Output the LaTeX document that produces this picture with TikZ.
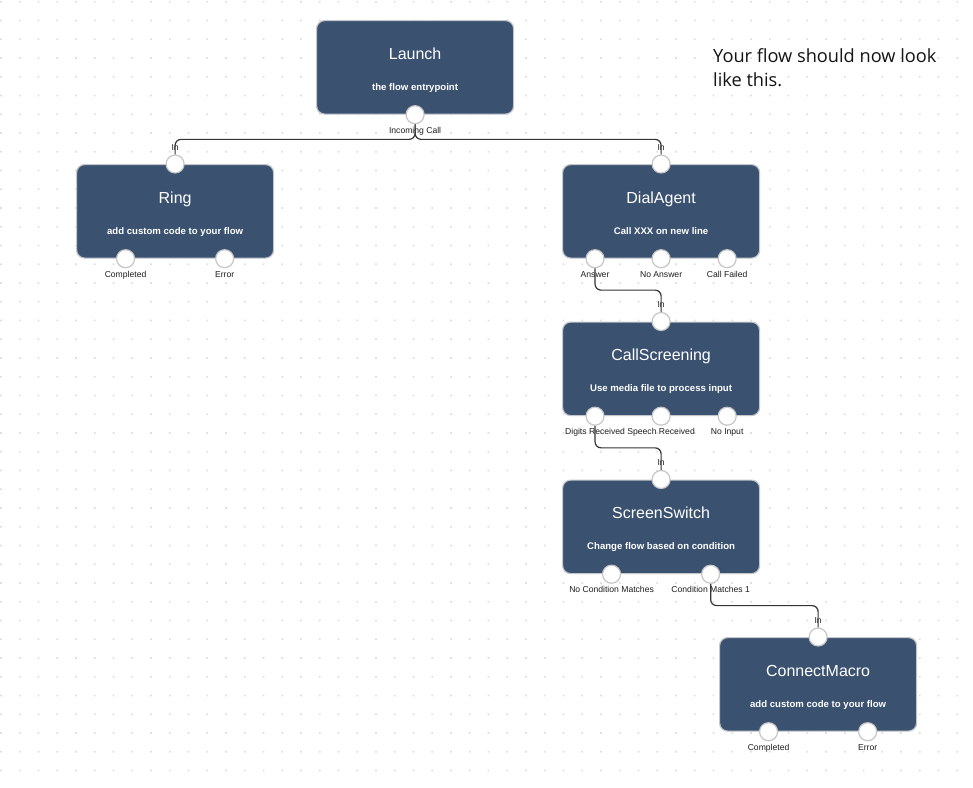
\documentclass[tikz,border=0pt]{standalone}
\usepackage{fontspec}
\setmainfont{Liberation Sans}
\newfontfamily\notefont{Open Sans}
\usetikzlibrary{calc}

\definecolor{boxfill}{HTML}{3A5270}
\definecolor{boxedge}{HTML}{C3C7CC}
\definecolor{portedge}{HTML}{C6C6C6}
\definecolor{wire}{HTML}{353535}
\definecolor{griddot}{HTML}{E0E0E0}
\definecolor{labeltext}{HTML}{1E1E1E}

\tikzset{
  block/.style={draw=boxedge, line width=1.2pt, fill=boxfill, rounded corners=8pt,
    minimum width=197pt, minimum height=93.5pt, inner sep=0pt, anchor=north west},
  title/.style={text=white, font=\fontsize{16}{18}\selectfont, anchor=base, inner sep=0pt},
  subtitle/.style={text=white, font=\bfseries\fontsize{9.6}{11}\selectfont, anchor=base, inner sep=0pt},
  port/.style={circle, draw=portedge, line width=1.2pt, fill=white, minimum size=18pt, inner sep=0pt},
  plabel/.style={text=labeltext, font=\fontsize{8.6}{10}\selectfont, anchor=base, inner sep=0pt},
  wire/.style={draw=wire, line width=1.2pt, rounded corners=6pt},
  note/.style={text=black!92, font=\notefont\fontsize{18.2}{24}\selectfont, anchor=base west, inner sep=0pt},
}

\begin{document}
\begin{tikzpicture}[x=1pt, y=-1pt]
  \useasboundingbox (0,0) rectangle (973,787);
  \fill[white] (0,0) rectangle (973,787);

  % dotted canvas grid
  \fill[griddot] \foreach \i in {0,...,51} { \foreach \j in {0,...,41} {
      (0.1+\i*18.75, 0.8+\j*18.75) rectangle ++(1.8,1.8) } };

  % ---- blocks ----
  \node[block] (launch) at (316,20) {};
  \node[block] (ring) at (76,164) {};
  \node[block] (dial) at (562,164) {};
  \node[block] (screen) at (562,321.5) {};
  \node[block] (switch) at (562,479.5) {};
  \node[block] (macro) at (719,637) {};

  % ---- titles and descriptions ----
  \foreach \b/\t/\s in {launch/Launch/the flow entrypoint,
                        ring/Ring/add custom code to your flow,
                        dial/DialAgent/Call XXX on new line,
                        screen/CallScreening/Use media file to process input,
                        switch/ScreenSwitch/Change flow based on condition,
                        macro/ConnectMacro/add custom code to your flow} {
    \node[title] (\b-title) at ([yshift=-39pt]\b.north) {\t};
    \node[subtitle] (\b-desc) at ([yshift=-70pt]\b.north) {\s};
  }

  % ---- ports ----
  \node[port] (launch-out) at (launch.south) {};

  \node[port] (ring-in) at (ring.north) {};
  \node[port] (ring-done) at ($(ring.south west)!0.25!(ring.south east)$) {};
  \node[port] (ring-err) at ($(ring.south west)!0.75!(ring.south east)$) {};

  \node[port] (dial-in) at (dial.north) {};
  \node[port] (dial-ans) at ($(dial.south west)!0.1667!(dial.south east)$) {};
  \node[port] (dial-noans) at (dial.south) {};
  \node[port] (dial-fail) at ($(dial.south west)!0.8333!(dial.south east)$) {};

  \node[port] (screen-in) at (screen.north) {};
  \node[port] (screen-digits) at ($(screen.south west)!0.1667!(screen.south east)$) {};
  \node[port] (screen-speech) at (screen.south) {};
  \node[port] (screen-none) at ($(screen.south west)!0.8333!(screen.south east)$) {};

  \node[port] (switch-in) at (switch.north) {};
  \node[port] (switch-nomatch) at ($(switch.south west)!0.25!(switch.south east)$) {};
  \node[port] (switch-match) at ($(switch.south west)!0.75!(switch.south east)$) {};

  \node[port] (macro-in) at (macro.north) {};
  \node[port] (macro-done) at ($(macro.south west)!0.25!(macro.south east)$) {};
  \node[port] (macro-err) at ($(macro.south west)!0.75!(macro.south east)$) {};

  % ---- port labels ----
  \foreach \p/\t in {launch-out/Incoming Call,
                    ring-done/Completed, ring-err/Error,
                    dial-ans/Answer, dial-noans/No Answer, dial-fail/Call Failed,
                    screen-digits/Digits Received, screen-speech/Speech Received, screen-none/No Input,
                    switch-nomatch/No Condition Matches, switch-match/Condition Matches 1,
                    macro-done/Completed, macro-err/Error} {
    \node[plabel] (\p-label) at ([yshift=-9pt]\p.south) {\t};
  }

  % ---- connectors ----
  \draw[wire] (launch-out.south) |- ($(launch-out.south)!0.5!(ring-in.north)$) -| (ring-in.north);
  \draw[wire] (launch-out.south) |- ($(launch-out.south)!0.5!(dial-in.north)$) -| (dial-in.north);
  \draw[wire] (dial-ans.south) |- ($(dial-ans.south)!0.5!(screen-in.north)$) -| (screen-in.north);
  \draw[wire] (screen-digits.south) |- ($(screen-digits.south)!0.5!(switch-in.north)$) -| (switch-in.north);
  \draw[wire] (switch-match.south) |- ($(switch-match.south)!0.5!(macro-in.north)$) -| (macro-in.north);

  % ---- input labels ----
  \foreach \p in {ring-in, dial-in, screen-in, switch-in, macro-in} {
    \node[plabel] (\p-label) at ([yshift=4pt]\p.north) {In};
  }

  % ---- note ----
  \node[note] (note-a) at (713,62) {Your flow should now look};
  \node[note] (note-b) at (713,86) {like this.};
\end{tikzpicture}
\end{document}
